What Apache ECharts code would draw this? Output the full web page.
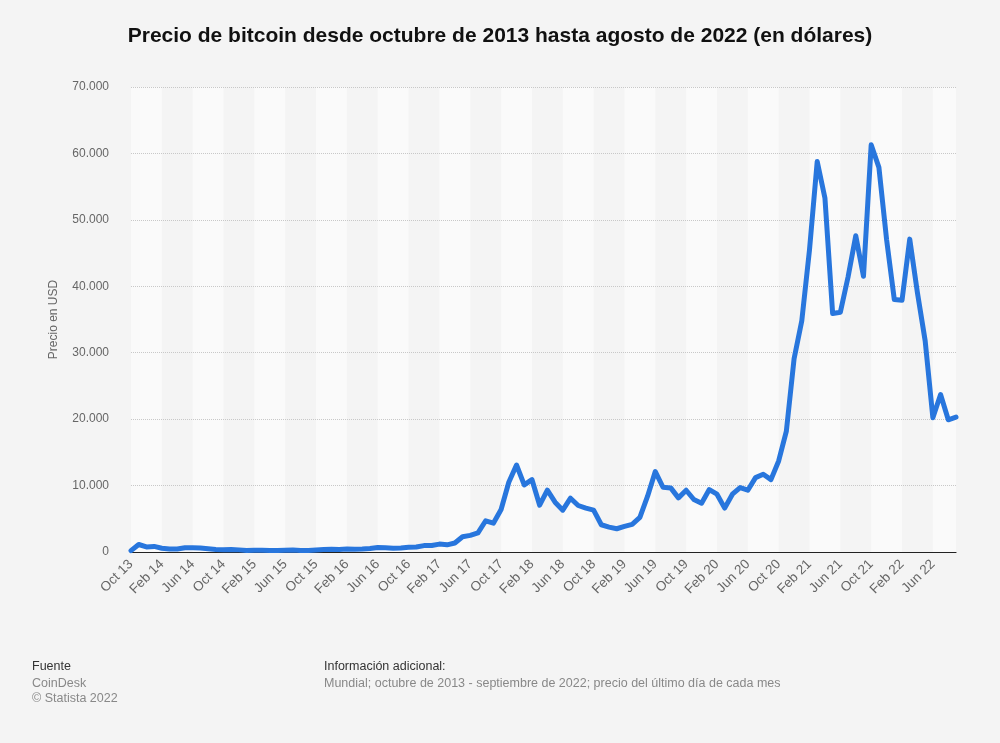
<!DOCTYPE html>
<html>
<head>
<meta charset="utf-8">
<script src="https://cdn.jsdelivr.net/npm/echarts@6/dist/echarts.min.js"></script>
<style>
html,body{margin:0;padding:0;background:#f4f4f4;}
#chart{width:1000px;height:743px;}
</style>
</head>
<body>
<div id="chart"></div>
<script>
// Oct 2013 .. Sep 2022 (month labels)
const categories = [
 'Oct 13','Nov 13','Dec 13',
 'Jan 14','Feb 14','Mar 14','Apr 14','May 14','Jun 14','Jul 14','Aug 14','Sep 14','Oct 14','Nov 14','Dec 14',
 'Jan 15','Feb 15','Mar 15','Apr 15','May 15','Jun 15','Jul 15','Aug 15','Sep 15','Oct 15','Nov 15','Dec 15',
 'Jan 16','Feb 16','Mar 16','Apr 16','May 16','Jun 16','Jul 16','Aug 16','Sep 16','Oct 16','Nov 16','Dec 16',
 'Jan 17','Feb 17','Mar 17','Apr 17','May 17','Jun 17','Jul 17','Aug 17','Sep 17','Oct 17','Nov 17','Dec 17',
 'Jan 18','Feb 18','Mar 18','Apr 18','May 18','Jun 18','Jul 18','Aug 18','Sep 18','Oct 18','Nov 18','Dec 18',
 'Jan 19','Feb 19','Mar 19','Apr 19','May 19','Jun 19','Jul 19','Aug 19','Sep 19','Oct 19','Nov 19','Dec 19',
 'Jan 20','Feb 20','Mar 20','Apr 20','May 20','Jun 20','Jul 20','Aug 20','Sep 20','Oct 20','Nov 20','Dec 20',
 'Jan 21','Feb 21','Mar 21','Apr 21','May 21','Jun 21','Jul 21','Aug 21','Sep 21','Oct 21','Nov 21','Dec 21',
 'Jan 22','Feb 22','Mar 22','Apr 22','May 22','Jun 22','Jul 22','Aug 22','Sep 22'
];
const prices = [
 200, 1130, 760,
 840, 570, 460, 450, 630, 640, 590, 480, 390, 340, 380, 320,
 220, 255, 245, 235, 230, 265, 285, 230, 235, 315, 380, 430,
 370, 440, 415, 450, 530, 670, 625, 575, 610, 700, 745, 965,
 970, 1190, 1080, 1350, 2300, 2500, 2880, 4700, 4340, 6400, 10500, 13100,
 10100, 10900, 7050, 9300, 7500, 6300, 8100, 7000, 6600, 6300, 4100, 3750,
 3500, 3850, 4150, 5200, 8400, 12100, 9750, 9650, 8150, 9300, 7900, 7350,
 9400, 8700, 6600, 8700, 9700, 9300, 11200, 11700, 10900, 13700, 18200, 29100,
 34800, 45500, 58800, 53300, 35900, 36100, 41400, 47600, 41500, 61300, 57900, 47000,
 38000, 37900, 47100, 39000, 31800, 20200, 23700, 19900, 20300
];
const yTicks = [0, 10000, 20000, 30000, 40000, 50000, 60000, 70000];
const labelStep = 4;

const titleText = 'Precio de bitcoin desde octubre de 2013 hasta agosto de 2022 (en dólares)';
const yName = 'Precio en USD';

// alternating bands every 4 months
const bands = [];
for (let k = 0; k < categories.length - 1; k += labelStep * 2) {
  const end = Math.min(k + labelStep, categories.length - 1);
  bands.push([{ xAxis: categories[k] }, { xAxis: categories[end] }]);
}

const fmt = v => String(v).replace(/\B(?=(\d{3})+(?!\d))/g, '.');
const FONT = '"Liberation Sans", Arial, Helvetica, sans-serif';

const chart = echarts.init(document.getElementById('chart'), null, { renderer: 'canvas' });
chart.setOption({
  backgroundColor: '#f4f4f4',
  animation: false,
  textStyle: { fontFamily: FONT },
  title: {
    text: titleText,
    left: 'center',
    top: 26,
    padding: 0,
    textStyle: { fontFamily: FONT, fontSize: 21, fontWeight: 'bold', color: '#111' }
  },
  grid: { left: 131, right: 44, top: 87, bottom: 191, containLabel: false },
  xAxis: {
    type: 'category',
    data: categories,
    boundaryGap: false,
    z: 2,
    axisLine: { show: true, lineStyle: { color: '#222', width: 1.2 } },
    axisTick: { show: false },
    splitLine: { show: false },
    axisLabel: {
      interval: labelStep - 1,
      rotate: 45,
      margin: 10,
      color: '#666',
      fontSize: 13.5,
      fontFamily: FONT
    }
  },
  yAxis: {
    type: 'value',
    min: yTicks[0],
    max: yTicks[yTicks.length - 1],
    interval: yTicks[1] - yTicks[0],
    z: 2,
    name: yName,
    nameLocation: 'middle',
    nameRotate: 90,
    nameGap: 71,
    nameTextStyle: { color: '#666', fontSize: 12, fontFamily: FONT },
    axisLine: { show: false },
    axisTick: { show: false },
    axisLabel: { color: '#666', fontSize: 12, margin: 22, fontFamily: FONT, formatter: v => fmt(v) },
    splitLine: { show: true, lineStyle: { color: '#c8c8c8', type: 'dotted', width: 1 } }
  },
  series: [{
    type: 'line',
    data: prices,
    z: 3,
    showSymbol: false,
    symbol: 'none',
    lineStyle: { color: '#2876dd', width: 5, join: 'round', cap: 'round' },
    itemStyle: { color: '#2876dd' },
    markArea: {
      silent: true,
      z: 1,
      itemStyle: { color: '#fafafa' },
      data: bands
    }
  }],
  graphic: [
    { type: 'text', left: 32, top: 660, style: { text: 'Fuente', fill: '#333', font: '12.5px ' + FONT } },
    { type: 'text', left: 32, top: 677, style: { text: 'CoinDesk', fill: '#888', font: '12.5px ' + FONT } },
    { type: 'text', left: 32, top: 692, style: { text: '© Statista 2022', fill: '#888', font: '12.5px ' + FONT } },
    { type: 'text', left: 324, top: 660, style: { text: 'Información adicional:', fill: '#333', font: '12.5px ' + FONT } },
    { type: 'text', left: 324, top: 677, style: { text: 'Mundial; octubre de 2013 - septiembre de 2022; precio del último día de cada mes', fill: '#888', font: '12.5px ' + FONT } }
  ]
});
</script>
</body>
</html>
